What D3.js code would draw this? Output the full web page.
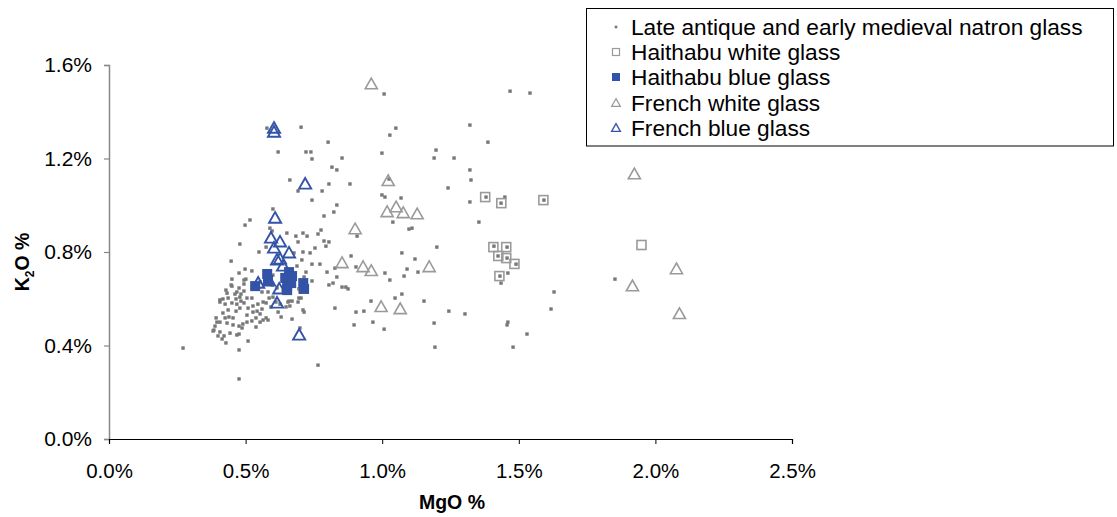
<!DOCTYPE html>
<html>
<head>
<meta charset="utf-8">
<script src="https://cdn.jsdelivr.net/npm/d3@7/dist/d3.min.js"></script>
<style>
html,body{margin:0;padding:0;background:#fff;}
svg{display:block;font-family:"Liberation Sans",Arial,sans-serif;}
</style>
</head>
<body>
<svg id="chart" width="1117" height="517"></svg>
<script>
// ---- data: [MgO %, K2O %] ----
const seriesNames = ["Late antique and early medieval natron glass","Haithabu white glass","Haithabu blue glass","French white glass","French blue glass"];
const xTicks = [0,0.5,1.0,1.5,2.0,2.5];
const yTicks = [0,0.4,0.8,1.2,1.6];

const natronGlass = [
[0.578,1.330],[0.703,1.334],[0.802,1.270],[0.619,1.228],[0.721,1.228],[0.739,1.228],[0.743,1.198],[0.853,1.202],
[0.816,1.163],[0.834,1.151],[0.662,1.108],[0.692,1.061],[0.780,1.061],[0.805,1.091],[0.882,1.091],[0.743,1.022],
[0.834,1.001],[0.600,0.984],[0.787,0.954],[0.823,0.971],[0.516,0.937],[0.498,0.915],[0.589,0.902],[0.597,0.890],
[0.479,0.834],[0.651,0.881],[0.684,0.868],[0.710,0.881],[0.725,0.868],[0.765,0.877],[0.776,0.894],[0.787,0.847],
[0.805,0.843],[0.794,0.825],[0.908,0.868],[0.692,0.843],[0.754,0.817],[0.575,0.821],[1.007,1.476],[1.468,1.488],
[1.541,1.480],[1.050,1.330],[1.028,1.300],[0.999,1.223],[1.197,1.236],[1.190,1.202],[1.263,1.202],[1.321,1.343],
[1.387,1.270],[1.321,1.151],[1.325,1.108],[1.241,1.074],[0.999,1.044],[1.010,1.035],[1.069,1.031],[1.321,1.014],
[1.449,1.035],[1.025,1.112],[1.039,0.928],[1.098,0.898],[1.109,0.902],[1.354,0.928],[1.200,0.821],[1.072,0.796],
[0.886,0.783],[1.120,0.770],[0.904,0.736],[1.091,0.727],[1.131,0.714],[1.010,0.710],[1.028,0.680],[1.080,0.697],
[0.853,0.650],[0.867,0.650],[0.875,0.642],[1.072,0.620],[1.047,0.603],[0.959,0.590],[1.153,0.590],[0.904,0.543],
[0.933,0.547],[0.966,0.500],[0.897,0.488],[1.007,0.470],[1.244,0.547],[1.303,0.535],[1.190,0.496],[1.193,0.393],
[1.460,0.710],[1.435,0.667],[1.460,0.500],[1.457,0.488],[1.530,0.449],[1.479,0.393],[1.852,0.684],[1.629,0.629],
[1.618,0.556],[0.549,0.800],[0.710,0.800],[0.447,0.761],[0.743,0.748],[0.772,0.748],[0.721,0.714],[0.798,0.714],
[0.827,0.731],[0.834,0.693],[0.820,0.667],[0.498,0.727],[0.523,0.719],[0.476,0.710],[0.450,0.684],[0.447,0.659],
[0.494,0.680],[0.743,0.676],[0.805,0.659],[0.714,0.693],
[0.501,0.684],[0.450,0.654],[0.494,0.663],[0.476,0.646],[0.494,0.633],[0.432,0.624],[0.461,0.620],[0.479,0.607],
[0.417,0.599],[0.436,0.603],[0.465,0.599],[0.483,0.590],[0.505,0.603],[0.494,0.582],[0.468,0.577],[0.450,0.582],
[0.425,0.577],[0.406,0.586],[0.523,0.603],[0.527,0.569],[0.545,0.577],[0.564,0.586],[0.575,0.582],[0.586,0.603],
[0.560,0.629],[0.582,0.629],[0.600,0.607],[0.509,0.560],[0.527,0.543],[0.542,0.547],[0.560,0.556],[0.553,0.535],
[0.505,0.530],[0.479,0.560],[0.465,0.547],[0.436,0.552],[0.417,0.539],[0.439,0.522],[0.454,0.518],[0.425,0.518],
[0.406,0.500],[0.392,0.518],[0.432,0.496],[0.454,0.488],[0.476,0.483],[0.490,0.492],[0.505,0.500],[0.523,0.505],
[0.538,0.518],[0.553,0.500],[0.575,0.518],[0.388,0.483],[0.384,0.466],[0.406,0.458],[0.421,0.441],[0.443,0.453],
[0.414,0.428],[0.468,0.445],[0.509,0.419],[0.564,0.509],[0.630,0.522],[0.659,0.590],[0.670,0.590],[0.703,0.603],
[0.699,0.629],[0.619,0.543],[0.648,0.565],[0.593,0.565],[0.611,0.586],[0.597,0.659],[0.615,0.646],[0.637,0.633],
[0.553,0.672],[0.578,0.689],[0.600,0.701],[0.571,0.714],[0.527,0.659],[0.542,0.642],[0.677,0.796],[0.736,0.796],
[0.688,0.740],[0.706,0.766],[0.695,0.642],[0.695,0.603],[0.710,0.552],[0.670,0.513],[0.699,0.475],[0.662,0.569],
[0.582,0.509],[0.538,0.479],[0.487,0.475],[0.476,0.449],[0.381,0.462],[0.395,0.500],[0.476,0.381],[0.476,0.257],
[0.765,0.316],[0.271,0.389],[0.406,0.595],[0.428,0.637],[0.468,0.629],[0.483,0.620],[0.399,0.441],[0.428,0.411],
[0.626,0.577],[0.655,0.586],[0.692,0.586],[0.714,0.543],[0.827,0.560],
[1.380,1.035],[1.435,1.009],[1.592,1.022],[1.409,0.825],[1.457,0.821],[1.424,0.783],[1.457,0.774],[1.490,0.748],[1.431,0.697]
];

const haithabuWhite = [
[1.377,1.035],[1.436,1.009],[1.590,1.022],[1.407,0.821],[1.454,0.821],[1.425,0.783],[1.454,0.774],[1.484,0.749],[1.429,0.697],[1.949,0.830]
];

const haithabuBlue = [
[0.535,0.654],[0.579,0.706],[0.582,0.680],[0.659,0.714],[0.645,0.689],[0.667,0.667],[0.652,0.637],[0.652,0.654],[0.711,0.667],[0.714,0.642],[0.670,0.697]
];

const frenchWhite = [
[0.960,1.518],[1.022,1.104],[1.018,0.971],[1.051,0.992],[1.077,0.967],[1.128,0.962],[0.901,0.898],[0.853,0.753],
[0.930,0.736],[0.960,0.719],[1.172,0.736],[0.996,0.565],[1.066,0.556],[1.923,1.133],[2.077,0.727],[1.916,0.654],[2.088,0.535]
];

const frenchBlue = [
[0.604,1.330],[0.604,1.313],[0.718,1.091],[0.608,0.945],[0.593,0.860],[0.626,0.843],[0.604,0.817],[0.659,0.796],
[0.615,0.766],[0.626,0.770],[0.637,0.740],[0.546,0.667],[0.586,0.676],[0.623,0.642],[0.615,0.582],[0.696,0.445]
];

// ---- styles ----
const GREY_DOT = "#777777";
const GREY_LINE = "#9a9a9a";
const BLUE = "#3353a6";

const svg = d3.select("#chart");
const x = d3.scaleLinear().domain([0, 2.5]).range([109, 792]);
const y = d3.scaleLinear().domain([0, 1.6]).range([439, 65]);
const fmt = d => d.toFixed(1) + "%";

// axes
const gx = svg.append("g").attr("transform", "translate(0,439)")
  .call(d3.axisBottom(x).tickValues(xTicks).tickFormat(fmt).tickSize(5).tickPadding(19));
gx.select(".domain").attr("stroke", "#000").attr("stroke-width", 1.2);
gx.selectAll(".tick line").attr("stroke", "#000");
gx.selectAll("text").attr("font-size", 20.5).attr("fill", "#000").attr("font-family", "Liberation Sans, Arial, sans-serif");

const gy = svg.append("g").attr("transform", "translate(109,0)")
  .call(d3.axisLeft(y).tickValues(yTicks).tickFormat(fmt).tickSize(5).tickPadding(12));
gy.select(".domain").attr("stroke", "#888").attr("stroke-width", 1.5);
gy.selectAll(".tick line").attr("stroke", "#888").attr("stroke-width", 1.2);
gy.selectAll("text").attr("font-size", 21).attr("fill", "#000").attr("font-family", "Liberation Sans, Arial, sans-serif");
gx.raise();

// axis titles
svg.append("text").attr("x", 452).attr("y", 509).attr("text-anchor", "middle")
  .attr("font-size", 19.5).attr("font-weight", "bold").text("MgO %");
const yt = svg.append("text").attr("transform", "translate(29,262) rotate(-90)")
  .attr("text-anchor", "middle").attr("font-size", 19.5).attr("font-weight", "bold");
yt.append("tspan").text("K");
yt.append("tspan").attr("font-size", 12).attr("dy", 5).text("2");
yt.append("tspan").attr("dy", -5).text("O %");

// marker shapes
const triPath = (s) => `M0,${-s*0.55}L${s*0.55},${s*0.42}L${-s*0.55},${s*0.42}Z`;

const plot = svg.append("g");
plot.selectAll(".nat").data(natronGlass).join("rect")
  .attr("x", d => x(d[0]) - 1.7).attr("y", d => y(d[1]) - 1.7)
  .attr("width", 3.4).attr("height", 3.4).attr("fill", GREY_DOT);
plot.selectAll(".hw").data(haithabuWhite).join("rect")
  .attr("x", d => x(d[0]) - 4.5).attr("y", d => y(d[1]) - 4.5)
  .attr("width", 9).attr("height", 9).attr("fill", "none")
  .attr("stroke", GREY_LINE).attr("stroke-width", 1.6);
plot.selectAll(".hb").data(haithabuBlue).join("rect")
  .attr("x", d => x(d[0]) - 5).attr("y", d => y(d[1]) - 5)
  .attr("width", 10).attr("height", 10).attr("fill", BLUE);
plot.selectAll(".fw").data(frenchWhite).join("path")
  .attr("transform", d => `translate(${x(d[0])},${y(d[1])})`)
  .attr("d", triPath(11)).attr("fill", "none")
  .attr("stroke", GREY_LINE).attr("stroke-width", 1.6);
plot.selectAll(".fb").data(frenchBlue).join("path")
  .attr("transform", d => `translate(${x(d[0])},${y(d[1])})`)
  .attr("d", triPath(11)).attr("fill", "none")
  .attr("stroke", BLUE).attr("stroke-width", 1.9);

// legend
const lg = svg.append("g");
lg.append("rect").attr("x", 586.5).attr("y", 8.5).attr("width", 527).attr("height", 137.5)
  .attr("fill", "#fff").attr("stroke", "#000").attr("stroke-width", 1);
const rows = [27, 52, 77, 103, 128];
const lx = 616;
seriesNames.forEach((name, i) => {
  const cy = rows[i];
  const g = lg.append("g").attr("transform", `translate(${lx},${cy})`);
  if (i === 0) g.append("rect").attr("x", -1.3).attr("y", -1.3).attr("width", 2.6).attr("height", 2.6).attr("fill", GREY_DOT);
  if (i === 1) g.append("rect").attr("x", -3.5).attr("y", -3.5).attr("width", 7).attr("height", 7).attr("fill", "none").attr("stroke", GREY_LINE).attr("stroke-width", 1.2);
  if (i === 2) g.append("rect").attr("x", -4).attr("y", -4).attr("width", 8).attr("height", 8).attr("fill", BLUE);
  if (i === 3) g.append("path").attr("d", triPath(8)).attr("fill", "none").attr("stroke", GREY_LINE).attr("stroke-width", 1.2);
  if (i === 4) g.append("path").attr("d", triPath(8)).attr("fill", "none").attr("stroke", BLUE).attr("stroke-width", 1.3);
  lg.append("text").attr("x", 631).attr("y", cy + 8).attr("font-size", 22.7).attr("fill", "#000").text(name);
});
</script>
</body>
</html>
